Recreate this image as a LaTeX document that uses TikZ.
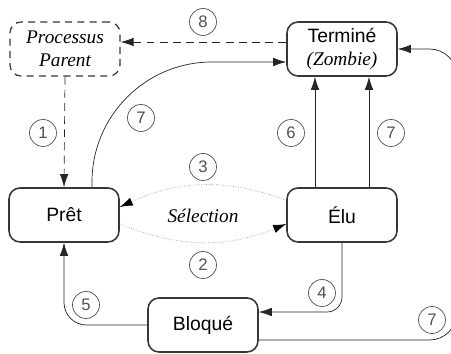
\documentclass[tikz,border=0pt]{standalone}
\usepackage{fontspec}
\setmainfont{Liberation Serif}
\setsansfont{Liberation Sans}
\usetikzlibrary{arrows.meta,positioning,calc}
\definecolor{BoxLine}{RGB}{55,55,55}
\definecolor{NumGray}{RGB}{80,80,80}
\definecolor{DotGray}{RGB}{150,150,150}

\begin{document}
\begin{tikzpicture}[
   x=0.02cm,y=-0.02cm,
   font=\fontsize{11}{13}\selectfont\sffamily,
   etat/.style={rectangle,rounded corners=0.22cm,draw=BoxLine,line width=0.9pt,
                minimum width=2.2cm,minimum height=1.08cm,align=center,inner sep=1pt},
   parent/.style={etat,dashed,dash pattern=on 4pt off 3pt,line width=0.7pt,
                  font=\fontsize{11}{13}\selectfont\rmfamily\itshape},
   num/.style={circle,draw=NumGray,thin,minimum size=0.54cm,inner sep=0pt,
               text=NumGray,font=\fontsize{9.5}{11}\selectfont\sffamily},
   arr/.style={-{Latex[length=2.6mm,width=1.7mm]},thin,black!85},
   dsh/.style={arr,dash pattern=on 4.5pt off 3pt},
   dot/.style={-{Latex[length=2.6mm,width=1.7mm,color=black]},thin,densely dotted,DotGray}]
   \useasboundingbox (0,0) rectangle (451,354);
   \node[parent] (parent) at (65,49)  {Processus\\Parent};
   \node[etat]   (term)   at (342,49) {Terminé\\\rmfamily\itshape (Zombie)};
   \node[etat]   (pret)   at (64,215) {Prêt};
   \node[etat]   (elu)    at (342,215) {Élu};
   \node[etat]   (bloque) at (203,325) {Bloqué};
   \draw[dsh] ([yshift=0.14cm]term.west) -- ([yshift=0.14cm]parent.east);
   \draw[dsh] (parent.south) -- (pret.north);
   \draw[arr,rounded corners=2.4cm] ([xshift=0.56cm]pret.north) |- ([yshift=-0.26cm]term.west);
   \draw[arr] ([xshift=-0.54cm]elu.north) -- ([xshift=-0.54cm]term.south);
   \draw[arr] ([xshift=0.54cm]elu.north) -- ([xshift=0.54cm]term.south);
   \draw[dot] ([yshift=0.3cm]elu.west) to[bend right=22] ([yshift=0.16cm]pret.east);
   \draw[dot] ([yshift=-0.18cm]pret.east) to[bend right=22] ([yshift=-0.18cm]elu.west);
   \draw[arr,rounded corners=0.3cm] (elu.south) |- ([yshift=0.26cm]bloque.east);
   \draw[arr,rounded corners=0.45cm] (bloque.west) -| (pret.south);
   \draw[arr,rounded corners=0.55cm] ([yshift=-0.3cm]bloque.east) -| (457,49) -- (term.east);
   \node[font=\fontsize{11}{13}\selectfont\rmfamily\itshape] (sel) at (203,216) {Sélection};
   % numeros des transitions
   \node[num] (n8)  at (203,22)  {8};
   \node[num] (n1)  at (43,133)  {1};
   \node[num] (n7a) at (141,118) {7};
   \node[num] (n6)  at (291,133) {6};
   \node[num] (n7b) at (391,133) {7};
   \node[num] (n3)  at (203,167) {3};
   \node[num] (n2)  at (203,265) {2};
   \node[num] (n4)  at (322,293) {4};
   \node[num] (n5)  at (86,305)  {5};
   \node[num] (n7c) at (432,320) {7};
\end{tikzpicture}
\end{document}
